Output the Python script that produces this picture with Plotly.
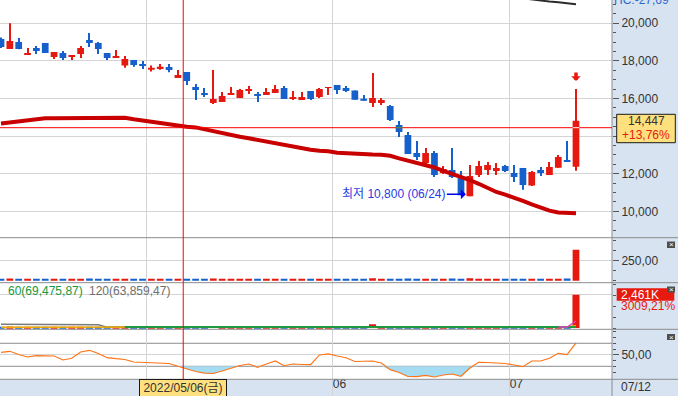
import plotly.graph_objects as go

# ---------------- data ----------------
dates = ["04/07", "04/08", "04/11", "04/12", "04/13", "04/14", "04/15", "04/18", "04/19", "04/20",
         "04/21", "04/22", "04/25", "04/26", "04/27", "04/28", "04/29", "05/02", "05/03", "05/04",
         "05/06", "05/09", "05/10", "05/11", "05/12", "05/13", "05/16", "05/17", "05/18", "05/19",
         "05/20", "05/23", "05/24", "05/25", "05/26", "05/27", "05/30", "05/31", "06/02", "06/03",
         "06/07", "06/08", "06/09", "06/10", "06/13", "06/14", "06/15", "06/16", "06/17", "06/20",
         "06/21", "06/22", "06/23", "06/24", "06/27", "06/28", "06/29", "06/30", "07/01", "07/04",
         "07/05", "07/06", "07/07", "07/08", "07/11", "07/12"]

opens = [19170, 18630, 19000, 18310, 18690, 18950, 18210, 18420, 18250, 18370,
         19110, 18950, 18420, 18150, 17750, 18050, 17840, 17530, 17600, 17680,
         17090, 17410, 16610, 16290, 15760, 15810, 16230, 16030, 16440, 16240,
         16190, 16290, 16560, 16020, 15920, 16400, 16080, 16560, 16720, 16560,
         16420, 15990, 15760, 15760, 15600, 14590, 14060, 13100, 12570, 13100,
         12040, 12200, 11770, 10800, 11930, 12200, 12140, 12410, 12040, 12300,
         11370, 12200, 11930, 12320, 12730, 12370]
highs = [19240, 20000, 19220, 18690, 18790, 18950, 18470, 18530, 18310, 18790,
         19480, 19000, 18420, 18580, 18260, 18050, 17990, 17750, 17830, 17830,
         17510, 17410, 16770, 16560, 17510, 16350, 16610, 16500, 16660, 16350,
         16560, 16720, 16660, 16400, 16350, 16400, 16560, 16610, 16720, 16660,
         16420, 16180, 17360, 16030, 15650, 14800, 14220, 13740, 13370, 13210,
         12410, 13370, 12140, 12460, 12670, 12620, 12570, 12460, 12460, 12300,
         12140, 12350, 12620, 13000, 13740, 16510]
lows = [18680, 18630, 18620, 18310, 18370, 18420, 18100, 18050, 18050, 18150,
        18740, 18370, 18050, 18150, 17640, 17690, 17570, 17430, 17530, 17400,
        17090, 16720, 15920, 16080, 15710, 15810, 16180, 16030, 16240, 15810,
        16190, 16290, 15970, 15920, 15920, 15920, 16030, 16190, 16240, 16350,
        15940, 15880, 15550, 15650, 14800, 13950, 13050, 12730, 12460, 11830,
        11990, 11770, 10850, 10800, 11830, 11930, 11930, 12090, 11560, 11140,
        11350, 11880, 11930, 12320, 12620, 12160]
closes = [18740, 19060, 18630, 18420, 18530, 18420, 18470, 18150, 18310, 18690,
          18950, 18630, 18150, 18260, 18100, 17780, 17780, 17640, 17690, 17510,
          17250, 16930, 16450, 16230, 15970, 16130, 16290, 16450, 16500, 16150,
          16350, 16500, 15970, 16080, 16080, 15970, 16500, 16610, 16450, 16400,
          15940, 15880, 16030, 15920, 14860, 14220, 13050, 12890, 13100, 11930,
          12250, 11830, 10850, 11880, 12410, 12460, 12300, 12140, 11830, 11400,
          12090, 12040, 12350, 12890, 12620, 14820]

ma_main = [14670, 14734, 14803, 14872, 14936, 14947, 14947, 14947, 14947, 14947,
           14963, 14979, 14979, 14979, 14979, 14893, 14819, 14776, 14697, 14617,
           14548, 14500, 14463, 14362, 14218, 14122, 14042, 13968, 13883, 13792,
           13707, 13617, 13526, 13420, 13367, 13271, 13218, 13197, 13112, 13101,
           13048, 13027, 13016, 13005, 12952, 12819, 12707, 12590, 12463, 12330,
           12149, 11995, 11851, 11665, 11463, 11234, 11027, 10883, 10734, 10553,
           10367, 10207, 10037, 9936, 9910, 9894]
ma_long = [None] * 59 + [21330, 21260, 21186, 21154, 21122, 21063, 21016]

ind_vals = [17, 28, 17, 17, 17, 17, 17, 17, 17, 17,
            28, 17, 17, 17, 17, 17, 17, 17, 17, 17,
            17, 17, 17, 17, 28, 17, 17, 17, 17, 17,
            17, 17, 17, 17, 17, 17, 17, 17, 17, 17,
            17, 17, 30, 17, 17, 17, 27, 17, 17, 17,
            17, 27, 17, 30, 17, 17, 17, 17, 17, 17,
            17, 17, 17, 17, 27, 387]

volumes_k = [62, 115, 58, 45, 52, 66, 48, 55, 41, 60,
             95, 63, 50, 47, 72, 54, 43, 49, 52, 58,
             61, 70, 82, 66, 150, 77, 53, 60, 48, 51,
             57, 62, 66, 44, 49, 58, 61, 55, 68, 52,
             60, 57, 272, 88, 96, 104, 120, 83, 79, 91,
             86, 112, 98, 134, 92, 71, 64, 59, 66, 73,
             69, 55, 62, 80, 102, 2461]
vol_ma5 = [None] * 63 + [66, 72, 520]
vol_ma20 = [58, 59, 60, 60, 61, 61, 62, 62, 63, 63,
            64, 64, 65, 65, 66, 66, 66, 67, 67, 67,
            68, 68, 69, 70, 72, 72, 73, 73, 72, 72,
            71, 71, 70, 70, 70, 69, 69, 68, 68, 67,
            67, 66, 70, 71, 73, 75, 78, 80, 81, 82,
            83, 85, 86, 88, 88, 88, 87, 86, 85, 84,
            82, 80, 78, 77, 76, 185]
vol_ma60 = [None] * 14 + [66, 66, 66, 67, 67, 67, 67, 67, 68, 68,
                          68, 68, 68, 68, 68, 68, 68, 68, 68, 68,
                          68, 68, 68, 68, 68, 68, 68, 68, 69, 69,
                          69, 69, 69, 69, 70, 70, 70, 70, 71, 71,
                          71, 71, 71, 71, 71, 70, 70, 70, 70, 70,
                          70, 69.5]
vol_ma120 = [272, 271, 271, 270, 270, 269, 269, 268, 268, 246, 245, 244,
             66, 66, 66, 65, 65, 65, 65, 65, 65, 65,
             65, 65, 65, 65, 65, 64, 64, 64, 64, 64,
             64, 64, 64, 64, 64, 64, 64, 64, 64, 64,
             64, 64, 64, 64, 64, 64, 64, 64, 64, 64,
             64, 64, 64, 64, 64, 64, 64, 64, 64, 64,
             64, 64, 64, 64]

rsi = [54.3, 56.1, 50.5, 46.2, 48.4, 47.9, 47.9, 41.0, 43.9, 54.9,
       57.8, 52.3, 45.0, 43.2, 41.8, 37.5, 36.6, 35.4, 34.9, 34.9,
       30.0, 25.3, 21.0, 18.3, 17.5, 21.8, 27.0, 31.4, 34.0, 28.3,
       34.0, 39.2, 31.0, 34.0, 33.1, 32.8, 49.7, 51.4, 47.9, 44.8,
       38.3, 38.3, 39.2, 35.7, 24.1, 19.2, 12.3, 11.9, 14.3, 11.4,
       14.9, 16.6, 12.6, 27.0, 37.0, 36.6, 35.7, 34.9, 32.3, 29.3,
       39.2, 39.2, 43.9, 52.6, 50.5, 70.5]

price_ticks = [10000, 12000, 14000, 16000, 18000, 20000]
price_tick_text = ["10,000", "12,000", "14,000", "16,000", "18,000", "20,000"]
ind_ticks, ind_tick_text = [250], ["250,00"]
vol_ticks, vol_tick_text = [2500], [""]
rsi_ticks, rsi_tick_text = [50], ["50,00"]
rsi_low, rsi_high = 30, 70

cross_date = "05/06"
cross_price = 14447
cross_label = "2022/05/06(금)"
price_box_text = ["14,447", "+13,76%"]
vol_box_text = ["2,461K", "3009,21%"]
vol_legend = [("60(69,475,87)", "#17983a"), ("120(63,859,47)", "#6e6e6e")]
last_label = "07/12"
top_label = "HC:-27,69"

# ---------------- layout constants ----------------
W, H = 678, 396
PLOT_R = 612.0
SLOT = 8.846
FIRST_X = 1.0
BOUNDS = [0, 237.7, 282.7, 329.3, 379.3, 396]
FONT = "Liberation Sans, Noto Sans CJK KR, sans-serif"
UP, DOWN = "#e5190f", "#1660cc"
GRID = "#d4d4d4"
SEP = "#8c8c8c"
PANEL_BG = "#d7e3f1"


def fy(px):
    return 1 - px / H


def fx(px):
    return px / W


n = len(dates)
idx = list(range(n))
colors = [UP if c >= o else DOWN for o, c in zip(opens, closes)]
body_base = [min(o, c) for o, c in zip(opens, closes)]
body_h = [abs(c - o) for o, c in zip(opens, closes)]
wick_h = [h - l for h, l in zip(highs, lows)]

x_range = [(0 - FIRST_X) / SLOT, (PLOT_R - FIRST_X) / SLOT]
month_pos, month_txt = [], []
for i in range(1, n):
    if dates[i][:2] != dates[i - 1][:2]:
        month_pos.append(i - 0.5)
        month_txt.append(dates[i][:2])
cross_x = dates.index(cross_date) + 0.6

fig = go.Figure()
common = dict(hoverinfo="skip", showlegend=False)

# main panel
fig.add_trace(go.Scatter(x=idx, y=ma_main, mode="lines", line=dict(color="#c80000", width=4),
                         xaxis="x", yaxis="y", **common))
fig.add_trace(go.Scatter(x=idx, y=ma_long, mode="lines", line=dict(color="#2b2b2b", width=2),
                         xaxis="x", yaxis="y", **common))
fig.add_trace(go.Bar(x=idx, y=wick_h, base=lows, width=0.12, marker=dict(color=colors, line=dict(width=0)),
                     xaxis="x", yaxis="y", **common))
fig.add_trace(go.Bar(x=idx, y=body_h, base=body_base, width=0.76, marker=dict(color=colors, line=dict(width=0)),
                     xaxis="x", yaxis="y", **common))

# panel 2
fig.add_trace(go.Bar(x=idx, y=ind_vals, width=0.76, marker=dict(color=colors, line=dict(width=0)),
                     xaxis="x", yaxis="y2", **common))

# panel 3 volume
fig.add_trace(go.Bar(x=idx, y=volumes_k, width=0.8, marker=dict(color=colors, line=dict(width=0)),
                     xaxis="x", yaxis="y3", **common))
fig.add_trace(go.Scatter(x=idx, y=vol_ma120, mode="lines", line=dict(color="#7a7a7a", width=1.5),
                         xaxis="x", yaxis="y3", **common))
fig.add_trace(go.Scatter(x=idx, y=vol_ma20, mode="lines", line=dict(color="#f0a800", width=1.5),
                         xaxis="x", yaxis="y3", **common))
fig.add_trace(go.Scatter(x=idx, y=vol_ma60, mode="lines", line=dict(color="#1e9a3c", width=2),
                         xaxis="x", yaxis="y3", **common))
fig.add_trace(go.Scatter(x=idx, y=vol_ma5, mode="lines", line=dict(color="#e040c0", width=1.5),
                         xaxis="x", yaxis="y3", **common))

# panel 4 oscillator
fig.add_trace(go.Scatter(x=idx, y=[rsi_low] * n, mode="lines", line=dict(width=0),
                         xaxis="x", yaxis="y4", **common))
fig.add_trace(go.Scatter(x=idx, y=[min(v, rsi_low) for v in rsi], mode="lines", line=dict(width=0),
                         fill="tonexty", fillcolor="#a6dcf2", xaxis="x", yaxis="y4", **common))
fig.add_trace(go.Scatter(x=idx, y=rsi, mode="lines", line=dict(color="#ff7418", width=1.2),
                         xaxis="x", yaxis="y4", **common))

# dummy for date strip subplot
fig.add_trace(go.Scatter(x=[0], y=[-5], mode="markers", marker=dict(opacity=0),
                         xaxis="x", yaxis="y5", **common))

right_axis = dict(side="right", anchor="x", ticks="outside", ticklen=6, tickcolor="#555", tickwidth=1,
                  showline=False, zeroline=False, showgrid=True, gridcolor=GRID, gridwidth=1,
                  tickfont=dict(size=12, color="#333", family=FONT), tickmode="array")

fig.update_layout(
    width=W, height=H, autosize=False,
    margin=dict(l=0, r=0, t=0, b=0, pad=0),
    paper_bgcolor="white", plot_bgcolor="rgba(0,0,0,0)",
    font=dict(family=FONT, size=12, color="#333"),
    showlegend=False, barmode="overlay",
    xaxis=dict(domain=[0, fx(PLOT_R)], range=x_range, anchor="y5", tickmode="array",
               tickvals=month_pos, ticktext=month_txt, ticks="", ticklabelposition="inside right",
               showgrid=True, gridcolor=GRID, gridwidth=1, zeroline=False, showline=False,
               tickfont=dict(size=12, color="#333", family=FONT)),
    yaxis=dict(domain=[fy(BOUNDS[1]), fy(BOUNDS[0])], range=[8596, 21239],
               tickvals=price_ticks, ticktext=price_tick_text,
               minor=dict(ticks="outside", ticklen=3, tickcolor="#555", tickmode="linear",
                          tick0=0, dtick=500, showgrid=False), **right_axis),
    yaxis2=dict(domain=[fy(BOUNDS[2]), fy(BOUNDS[1])], range=[-25, 537.5],
                tickvals=ind_ticks, ticktext=ind_tick_text,
                minor=dict(ticks="outside", ticklen=3, tickcolor="#555", tickmode="linear",
                           tick0=0, dtick=125, showgrid=False), **right_axis),
    yaxis3=dict(domain=[fy(BOUNDS[3]), fy(BOUNDS[2])], range=[-96, 3361],
                tickvals=vol_ticks, ticktext=vol_tick_text,
                minor=dict(ticks="outside", ticklen=3, tickcolor="#555", tickmode="linear",
                           tick0=0, dtick=800, showgrid=False), **right_axis),
    yaxis4=dict(domain=[fy(BOUNDS[4]), fy(BOUNDS[3])], range=[7.4, 94.3],
                tickvals=rsi_ticks, ticktext=rsi_tick_text,
                minor=dict(ticks="outside", ticklen=3, tickcolor="#555", tickmode="linear",
                           tick0=0, dtick=10, showgrid=False), **right_axis),
    yaxis5=dict(domain=[0, fy(BOUNDS[4])], range=[0, 1], anchor="x", visible=False),
)
fig.update_layout(yaxis3_ticks="")

shapes = []
# backgrounds
shapes.append(dict(type="rect", xref="paper", yref="paper", x0=fx(PLOT_R), x1=1, y0=0, y1=1,
                   fillcolor=PANEL_BG, line=dict(width=0), layer="below"))
shapes.append(dict(type="rect", xref="paper", yref="paper", x0=0, x1=fx(PLOT_R), y0=0, y1=fy(BOUNDS[4]),
                   fillcolor=PANEL_BG, line=dict(width=0), layer="below"))
# oscillator reference levels
for lv in (rsi_low, rsi_high):
    shapes.append(dict(type="line", xref="paper", yref="y4", x0=0, x1=fx(PLOT_R), y0=lv, y1=lv,
                       line=dict(color=SEP, width=1), layer="between"))
# separators
for b in BOUNDS[1:5]:
    shapes.append(dict(type="line", xref="paper", yref="paper", x0=0, x1=1, y0=fy(b), y1=fy(b),
                       line=dict(color=SEP, width=1), layer="above"))
shapes.append(dict(type="line", xref="paper", yref="paper", x0=fx(PLOT_R), x1=fx(PLOT_R), y0=0, y1=1,
                   line=dict(color=SEP, width=1), layer="above"))
# crosshair
shapes.append(dict(type="line", xref="x", yref="paper", x0=cross_x, x1=cross_x, y0=fy(BOUNDS[4]), y1=1,
                   line=dict(color="#ff0000", width=1), layer="above"))
shapes.append(dict(type="line", xref="paper", yref="y", x0=0, x1=fx(PLOT_R), y0=cross_price, y1=cross_price,
                   line=dict(color="#ff0000", width=1), layer="above"))
for i in range(n):
    if body_base[i] < cross_price < body_base[i] + body_h[i]:
        shapes.append(dict(type="line", xref="x", yref="y", x0=i - 0.38, x1=i + 0.38,
                           y0=cross_price, y1=cross_price, layer="above",
                           line=dict(color="#ffffff" if colors[i] == UP else "#22b04a", width=1)))
# price box & volume box
shapes.append(dict(type="rect", xref="paper", yref="paper", x0=fx(616.7), x1=fx(675.3),
                   y0=fy(142.7), y1=fy(114.3), fillcolor="#ffe07f", line=dict(color="#1a1a1a", width=1),
                   layer="above"))
shapes.append(dict(type="rect", xref="paper", yref="paper", x0=fx(616.7), x1=fx(674.3),
                   y0=fy(300.7), y1=fy(288.3), fillcolor="#e8190e", line=dict(width=0), layer="above"))
# close buttons
for y0, y1 in [(241.5, 248), (286.5, 292.5), (334, 340)]:
    shapes.append(dict(type="rect", xref="paper", yref="paper", x0=fx(667), x1=fx(675),
                       y0=fy(y1), y1=fy(y0), fillcolor="#4e4e4e", line=dict(width=0), layer="above"))

anns = []
anns.append(dict(xref="paper", yref="paper", x=fx(646), y=fy(121), text=price_box_text[0], showarrow=False,
                 font=dict(size=12, color="#333"), xanchor="center", yanchor="middle"))
anns.append(dict(xref="paper", yref="paper", x=fx(646), y=fy(134.5), text=price_box_text[1], showarrow=False,
                 font=dict(size=12, color="#e8190e"), xanchor="center", yanchor="middle"))
anns.append(dict(xref="paper", yref="paper", x=fx(619), y=fy(294.5), text=vol_box_text[0], showarrow=False,
                 font=dict(size=12, color="white"), xanchor="left", yanchor="middle"))
anns.append(dict(xref="paper", yref="paper", x=fx(619), y=fy(306), text=vol_box_text[1], showarrow=False,
                 font=dict(size=12, color="#e8190e"), xanchor="left", yanchor="middle"))
for (t, c), xp in zip(vol_legend, [6, 87]):
    anns.append(dict(xref="paper", yref="paper", x=fx(xp), y=fy(291), text=t, showarrow=False,
                     font=dict(size=12, color=c), xanchor="left", yanchor="middle"))
for y0, y1 in [(241.5, 248), (286.5, 292.5), (334, 340)]:
    anns.append(dict(xref="paper", yref="paper", x=fx(671), y=fy((y0 + y1) / 2), text="×", showarrow=False,
                     font=dict(size=8, color="white"), xanchor="center", yanchor="middle"))
# date box
anns.append(dict(xref="x", yref="paper", x=cross_x, y=fy(387.7), text=cross_label, showarrow=False,
                 font=dict(size=12, color="#333"), xanchor="center", yanchor="middle",
                 bgcolor="#ffe07f", bordercolor="#1a1a1a", borderwidth=1, borderpad=1, width=84, height=14))
anns.append(dict(xref="paper", yref="paper", x=fx(619), y=fy(387), text=last_label, showarrow=False,
                 font=dict(size=12, color="#333"), xanchor="left", yanchor="middle"))
anns.append(dict(xref="paper", yref="paper", x=fx(612), y=fy(9), text=top_label, showarrow=False,
                 font=dict(size=12, color="#2a6acc"), xanchor="left", yanchor="bottom"))
# lowest annotation
low_val = min(lows)
low_idx = lows.index(low_val)
anns.append(dict(xref="x", yref="y", x=low_idx, y=low_val, xshift=-4, yshift=2,
                 text=f"최저 {low_val:,} ({dates[low_idx]})", showarrow=True, ax=-72, ay=0,
                 arrowhead=1, arrowsize=1.1, arrowwidth=1.5, arrowcolor="#0000ee", standoff=0,
                 font=dict(size=12, color="#1f3de0")))
# marker over last candle
anns.append(dict(xref="x", yref="y", x=n - 1, y=highs[-1], text="", showarrow=True, ax=0, ay=-18,
                 arrowhead=1, arrowsize=0.45, arrowwidth=3.5, arrowcolor="#e8190e", standoff=8))

fig.update_layout(shapes=shapes, annotations=anns)
fig.write_html("out.html", config={"displayModeBar": False},
               post_script="document.body.style.margin='0';document.body.style.overflow='hidden';")
